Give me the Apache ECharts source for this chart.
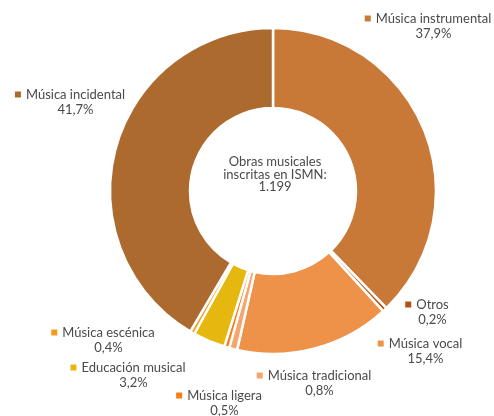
<!DOCTYPE html>
<html>
<head>
<meta charset="utf-8">
<script src="https://cdn.jsdelivr.net/npm/echarts@6/dist/echarts.min.js"></script>
<style>
html,body{margin:0;padding:0;background:#fff;}
#main{width:494px;height:416px;}
</style>
</head>
<body>
<div id="main"></div>
<script>
const categories = ['Música instrumental','Otros','Música vocal','Música tradicional','Música ligera','Educación musical','Música escénica','Música incidental'];
const values = [37.9, 0.2, 15.4, 0.8, 0.5, 3.2, 0.4, 41.7];
const colors = ['#C87837','#B0540F','#EE9249','#F6A56C','#F87E12','#E6B80F','#F79A1A','#AC6A2F'];
const centerLines = ['Obras musicales','inscritas en ISMN:','1.199'];
// label box centres [x, y] (layout only)
const labelBoxes = [[428,26],[427,312],[420,351],[314,383],[219,403],[128,375],[103,340],[70,102]];

const chart = echarts.init(document.getElementById('main'), null, {renderer:'canvas'});
const FONT = 'Lato';
const rich = {
  g:{width:5},
  sp:{width:11},
  n:{fontSize:13, fontFamily:FONT, color:'#4a4a4a', lineHeight:15},
  v:{fontSize:13, fontFamily:FONT, color:'#4a4a4a', lineHeight:15}
};
colors.forEach((c,i)=>{ rich['sq'+i] = {width:6, height:6, backgroundColor:c}; });

const data = categories.map((name,i)=>({name:name, value:values[i], itemStyle:{color:colors[i]}}));

chart.setOption({
  animation:false,
  graphic:[{
    type:'text', x:275, y:174.5,
    style:{text:centerLines.join('\n'), align:'center', verticalAlign:'middle', fontSize:13, fontFamily:FONT, fill:'#4a4a4a', lineHeight:12.8}
  }],
  series:[{
    type:'pie',
    center:[273,191],
    radius:[83,163],
    startAngle:90,
    clockwise:true,
    minAngle:1.6,
    avoidLabelOverlap:false,
    itemStyle:{borderColor:'#fff', borderWidth:2.5},
    label:{
      show:true,
      position:'outside',
      formatter:p=>`{sq${p.dataIndex}|}{g|}{n|${p.name}}\n{sp|}{v|${String(p.value).replace('.',',')}%}`,
      rich:rich
    },
    labelLine:{show:false},
    labelLayout:function(params){
      const b = labelBoxes[params.dataIndex];
      return {x:b[0], y:b[1], align:'center', verticalAlign:'middle'};
    },
    emphasis:{disabled:true},
    data:data
  }]
});
</script>
</body>
</html>
